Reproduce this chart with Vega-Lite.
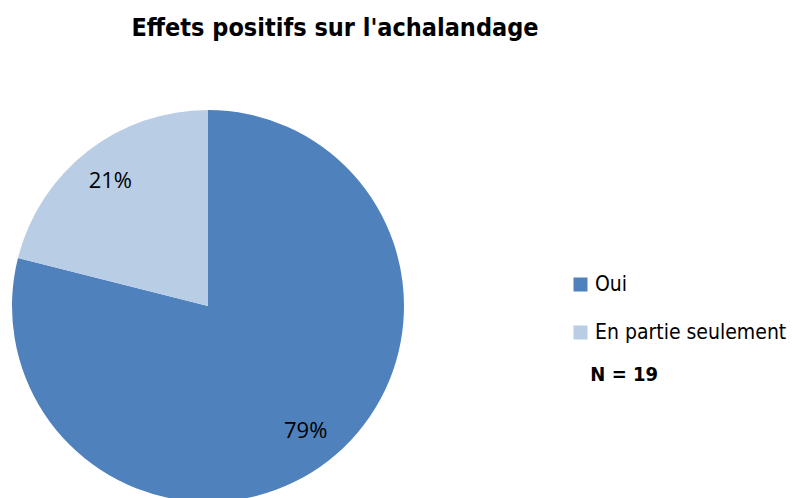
{
  "$schema": "https://vega.github.io/schema/vega-lite/v6.json",
  "autosize": "none",
  "width": 392,
  "height": 384,
  "padding": {"left": 12, "top": 114, "right": 389, "bottom": 0},
  "background": "white",
  "data": {
    "values": [
      {"reponse": "Oui", "n": 15, "label": "79%", "ordre": 1},
      {"reponse": "En partie seulement", "n": 4, "label": "21%", "ordre": 2}
    ]
  },
  "title": {
    "text": "Effets positifs sur l'achalandage",
    "font": "DejaVu Sans Condensed",
    "fontSize": 25,
    "fontWeight": "bold",
    "color": "#000000",
    "anchor": "middle",
    "dx": 127,
    "offset": 69
  },
  "encoding": {
    "theta": {"field": "n", "type": "quantitative", "stack": true},
    "order": {"field": "ordre", "type": "quantitative"}
  },
  "layer": [
    {
      "mark": {"type": "arc", "outerRadius": 196},
      "encoding": {
        "color": {
          "field": "reponse",
          "type": "nominal",
          "sort": ["Oui", "En partie seulement"],
          "scale": {"domain": ["Oui", "En partie seulement"], "range": ["#4F81BD", "#B9CDE5"]},
          "legend": {
            "orient": "none",
            "legendX": 558,
            "legendY": 160,
            "padding": 0,
            "title": "\u2800 N = 19",
            "titleOrient": "bottom",
            "titleFont": "DejaVu Sans Condensed",
            "titleFontSize": 20,
            "titleFontWeight": "bold",
            "titleColor": "#000000",
            "titlePadding": 22,
            "titleLimit": 0,
            "symbolType": "square",
            "symbolSize": 196,
            "symbolStrokeWidth": 0,
            "labelFont": "DejaVu Sans Condensed",
            "labelFontSize": 21,
            "labelColor": "#000000",
            "labelOffset": 4,
            "labelLimit": 0,
            "rowPadding": 26
          }
        }
      }
    },
    {
      "mark": {"type": "text", "radius": 159, "font": "Open Sans", "fontSize": 22, "color": "#000000"},
      "encoding": {"text": {"field": "label", "type": "nominal"}}
    }
  ],
  "config": {"view": {"stroke": null}}
}
